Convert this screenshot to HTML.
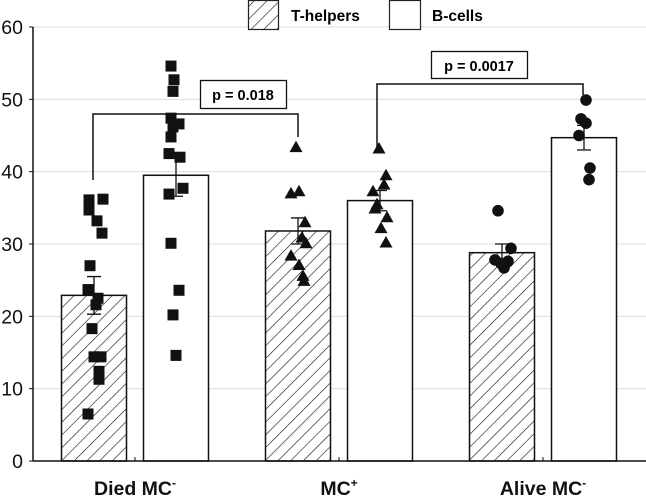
<!DOCTYPE html>
<html><head><meta charset="utf-8"><style>
body{margin:0;background:#fff}
svg{display:block;font-family:"Liberation Sans",Arial,sans-serif}
</style></head><body>
<svg id="chart" width="646" height="502" viewBox="0 0 646 502">
<defs>
<pattern id="hatch" patternUnits="userSpaceOnUse" width="9" height="9" patternTransform="rotate(45)">
<rect width="9" height="9" fill="#fff"/><line x1="0" y1="0" x2="0" y2="9" stroke="#111" stroke-width="1.2"/>
</pattern>
</defs>
<g id="grid"></g><g id="bars"></g><g id="pts"></g><g id="axes"></g>
<g>
<rect x="248.5" y="0.5" width="30" height="29" fill="url(#hatch)" stroke="#222" stroke-width="1.2"/>
<text x="291" y="21" font-size="15.5" font-weight="bold">T-helpers</text>
<rect x="389.5" y="0.5" width="31" height="29" fill="#fff" stroke="#222" stroke-width="1.2"/>
<text x="432" y="21" font-size="15.5" font-weight="bold">B-cells</text>
</g>
<g>
<polyline points="93,180 93,114 298,114 298,137" fill="none" stroke="#111" stroke-width="1.5"/>
<rect x="200.5" y="80.5" width="86" height="28" fill="#fff" stroke="#111" stroke-width="1.3"/>
<text x="243" y="100" font-size="14.5" font-weight="bold" text-anchor="middle">p = 0.018</text>
</g>
<g>
<polyline points="377,148 377,84 583,84 583,95" fill="none" stroke="#111" stroke-width="1.5"/>
<rect x="431.5" y="51.5" width="96" height="27" fill="#fff" stroke="#111" stroke-width="1.3"/>
<text x="479" y="71" font-size="14.5" font-weight="bold" text-anchor="middle">p = 0.0017</text>
</g>
</svg>
<script>
const categories=["Died MC-","MC+","Alive MC-"];
const yTicks=[0,10,20,30,40,50,60];
const tMeans=[22.9,31.8,28.8];
const bMeans=[39.5,36.0,44.7];
const tErr=[2.6,1.8,1.2];
const bErr=[2.9,1.4,1.7];
const tPoints=[
[36.1,34.7,36.2,33.2,31.5,27.0,23.7,22.5,21.6,18.3,14.4,14.4,12.4,11.3,6.5],
[43.4,37.0,37.3,33.0,30.9,30.1,28.4,27.1,25.6,24.9],
[34.6,29.4,27.6,27.8,27.3,26.7]];
const bPoints=[
[54.6,52.7,51.1,47.4,46.2,46.6,44.8,42.5,42.0,37.7,36.9,30.1,23.6,20.2,14.6],
[43.2,39.5,38.2,37.3,35.5,34.9,33.7,32.2,30.2],
[49.9,47.3,46.7,45.0,40.5,38.9]];
const jitterT=[[-5,-5,9,3,8,-4,-6,4,2,-2,0,7,5,5,-6],[-2,-7,1,7,4,8,-7,1,5,6],[-4,9,6,-7,-1,2]];
const jitterB=[[-5,-2,-3,-5,-3,3,-5,-7,4,7,-7,-5,3,-3,0],[-1,6,4,-7,-3,-5,7,1,6],[2,-3,2,-5,6,5]];
const NS="http://www.w3.org/2000/svg";
const y0=461,yTop=27,xAxis0=33;
const y=v=>y0-(v/60)*(y0-yTop);
const groupX=i=>135+i*204;
const barW=65;
function mk(tag,attrs,parent){const e=document.createElementNS(NS,tag);for(const k in attrs)e.setAttribute(k,attrs[k]);parent.appendChild(e);return e;}
const grid=document.getElementById('grid'),bars=document.getElementById('bars'),pts=document.getElementById('pts'),axes=document.getElementById('axes');
yTicks.forEach(t=>{
 if(t>0){const g=mk('line',{x1:xAxis0,x2:646,y1:y(t),y2:y(t),stroke:'#dcdcdc','stroke-width':1},grid);
 
 }
 const tk=mk('line',{x1:xAxis0-4,x2:xAxis0,y1:y(t),y2:y(t),stroke:'#111','stroke-width':1},axes);
 
 
 const tx=mk('text',{x:23,y:y(t)+7,'font-size':19.5,'text-anchor':'end',fill:'#111'},axes);
 tx.textContent=t;
 
 
});
const ya=mk('line',{x1:xAxis0,x2:xAxis0,y1:yTop,y2:y0,stroke:'#111','stroke-width':1.5},axes);


const xa=mk('line',{x1:xAxis0,x2:646,y1:y0,y2:y0,stroke:'#111','stroke-width':1.5},axes);


function marker(kind,cx,cy,parent){
 let e;
 if(kind===0)e=mk('rect',{x:cx-5.5,y:cy-5.5,width:11,height:11,fill:'#111'},parent);
 else if(kind===1)e=mk('polygon',{points:`${cx},${cy-6.5} ${cx+6.5},${cy+5} ${cx-6.5},${cy+5}`,fill:'#111'},parent);
 else e=mk('circle',{cx:cx,cy:cy,r:5.8,fill:'#111'},parent);
 return e;
}
categories.forEach((c,i)=>{
 const gx=groupX(i);
 const tx0=gx-8.5-barW, bx0=gx+8.5;
 const tb=mk('rect',{x:tx0,y:y(tMeans[i]),width:barW,height:y0-y(tMeans[i]),fill:'url(#hatch)',stroke:'#111','stroke-width':1.5},bars);
 
 
 const bb=mk('rect',{x:bx0,y:y(bMeans[i]),width:barW,height:y0-y(bMeans[i]),fill:'#fff',stroke:'#111','stroke-width':1.5},bars);
 
 
 const tk=mk('line',{x1:gx,x2:gx,y1:y0,y2:y0-4,stroke:'#111','stroke-width':1},axes);
 
 
 [[tx0+barW/2,tMeans[i],tErr[i],'t'],[bx0+barW/2,bMeans[i],bErr[i],'b']].forEach(([cx,m,e,s])=>{
  const g=mk('path',{d:`M${cx},${y(m-e)}V${y(m+e)}M${cx-7},${y(m+e)}H${cx+7}M${cx-7},${y(m-e)}H${cx+7}`,stroke:'#111','stroke-width':1.3,fill:'none'},pts);
  
  
 });
 tPoints[i].forEach((v,j)=>{const m=marker(i,tx0+barW/2+jitterT[i][j],y(v),pts);
  
  });
 bPoints[i].forEach((v,j)=>{const m=marker(i,bx0+barW/2+jitterB[i][j],y(v),pts);
  
  });
 const lab=mk('text',{x:gx,y:495,'font-size':19.5,'font-weight':'bold','text-anchor':'middle',fill:'#111'},axes);
 const base=c.replace(/[+-]$/,''),sup=c.slice(-1)==='+'?'+':'-';
 lab.textContent=base;
 const ts=mk('tspan',{dy:-8,'font-size':12},lab);
 ts.textContent=sup;
 
 
});
</script>
</body></html>
